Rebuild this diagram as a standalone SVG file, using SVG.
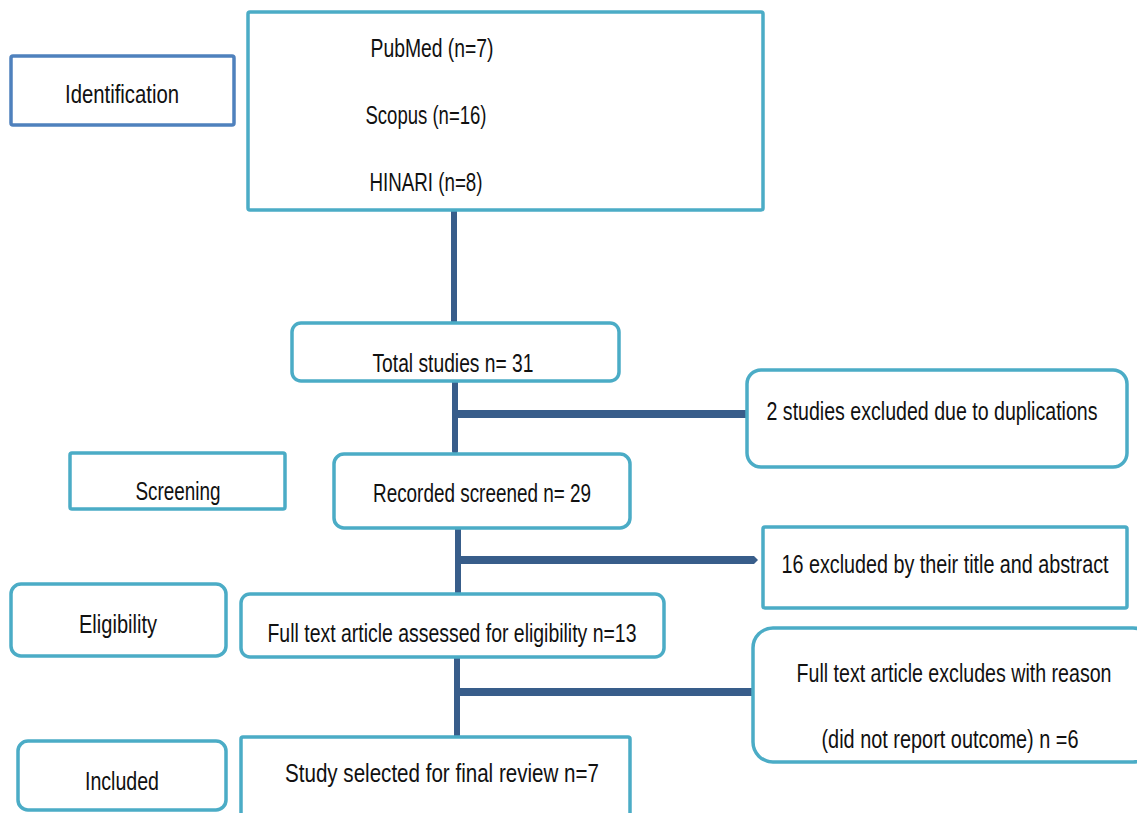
<svg xmlns="http://www.w3.org/2000/svg" width="1137" height="813" viewBox="0 0 1137 813">
<style>
.box{fill:#fff;stroke:#4BACC6;stroke-width:3.5}
.idb{fill:#fff;stroke:#4F81BD;stroke-width:3.5}
.t{font-family:"Liberation Sans",Arial,sans-serif;font-size:25px;fill:#111}
.c{fill:none;stroke:#385D8A;stroke-linecap:round}
.v{stroke-width:6}
.h{stroke-width:8;stroke-linecap:butt}
</style>
<defs>
<marker id="ah" markerWidth="8" markerHeight="10" refX="0" refY="5" orient="auto" markerUnits="userSpaceOnUse">
<path d="M0,1 L3,1 L7,5 L3,9 L0,9 Z" fill="#385D8A"/>
</marker>
</defs>
<rect width="1137" height="813" fill="#fff"/>
<g id="connectors">
<path class="c v" d="M454,211 V321"/>
<path class="c v" d="M455,382 V451"/>
<path class="c h" d="M455,414 H748"/>
<path class="c v" d="M458,509 V592"/>
<path class="c h" d="M458,560 H751" marker-end="url(#ah)"/>
<path class="c v" d="M457,658 V735"/>
<path class="c h" d="M457,692 H754"/>
</g>
<g id="identification">
<rect class="idb" x="11" y="56" width="223" height="69" rx="2"/>
<text class="t" x="122" y="103" text-anchor="middle" textLength="114" lengthAdjust="spacingAndGlyphs">Identification</text>
</g>
<g id="sources">
<rect class="box" x="248" y="12" width="515" height="198" rx="2"/>
<text class="t" x="432" y="57" text-anchor="middle" textLength="123" lengthAdjust="spacingAndGlyphs">PubMed (n=7)</text>
<text class="t" x="426" y="124" text-anchor="middle" textLength="121" lengthAdjust="spacingAndGlyphs">Scopus (n=16)</text>
<text class="t" x="426" y="191" text-anchor="middle" textLength="113" lengthAdjust="spacingAndGlyphs">HINARI (n=8)</text>
</g>
<g id="total">
<rect class="box" x="292" y="323" width="327" height="58" rx="9"/>
<text class="t" x="453" y="372" text-anchor="middle" textLength="161" lengthAdjust="spacingAndGlyphs">Total studies n= 31</text>
</g>
<g id="dup">
<rect class="box" x="747" y="370" width="380" height="97" rx="14"/>
<text class="t" x="932" y="420" text-anchor="middle" textLength="331" lengthAdjust="spacingAndGlyphs">2 studies excluded due to duplications</text>
</g>
<g id="screening">
<rect class="box" x="70" y="453" width="215" height="56" rx="2"/>
<text class="t" x="178" y="500" text-anchor="middle" textLength="85" lengthAdjust="spacingAndGlyphs">Screening</text>
</g>
<g id="recorded">
<rect class="box" x="334" y="454" width="296" height="74" rx="10"/>
<text class="t" x="482" y="502" text-anchor="middle" textLength="218" lengthAdjust="spacingAndGlyphs">Recorded screened n= 29</text>
</g>
<g id="titleabs">
<rect class="box" x="763" y="527" width="364" height="81" rx="2"/>
<text class="t" x="945" y="573" text-anchor="middle" textLength="327" lengthAdjust="spacingAndGlyphs">16 excluded by their title and abstract</text>
</g>
<g id="eligibility">
<rect class="box" x="11" y="584" width="215" height="72" rx="10"/>
<text class="t" x="118" y="633" text-anchor="middle" textLength="78" lengthAdjust="spacingAndGlyphs">Eligibility</text>
</g>
<g id="fulltext">
<rect class="box" x="241" y="594" width="423" height="63" rx="9"/>
<text class="t" x="452" y="642" text-anchor="middle" textLength="369" lengthAdjust="spacingAndGlyphs">Full text article assessed for eligibility n=13</text>
</g>
<g id="excluded">
<rect class="box" x="753" y="628" width="400" height="134" rx="20"/>
<text class="t" x="954" y="682" text-anchor="middle" textLength="315" lengthAdjust="spacingAndGlyphs">Full text article excludes with reason</text>
<text class="t" x="950" y="748" text-anchor="middle" textLength="257" lengthAdjust="spacingAndGlyphs">(did not report outcome) n =6</text>
</g>
<g id="included">
<rect class="box" x="18" y="741" width="208" height="69" rx="10"/>
<text class="t" x="122" y="790" text-anchor="middle" textLength="74" lengthAdjust="spacingAndGlyphs">Included</text>
</g>
<g id="final">
<rect class="box" x="241" y="737" width="389" height="90" rx="2"/>
<text class="t" x="442" y="782" text-anchor="middle" textLength="314" lengthAdjust="spacingAndGlyphs">Study selected for final review n=7</text>
</g>
</svg>
